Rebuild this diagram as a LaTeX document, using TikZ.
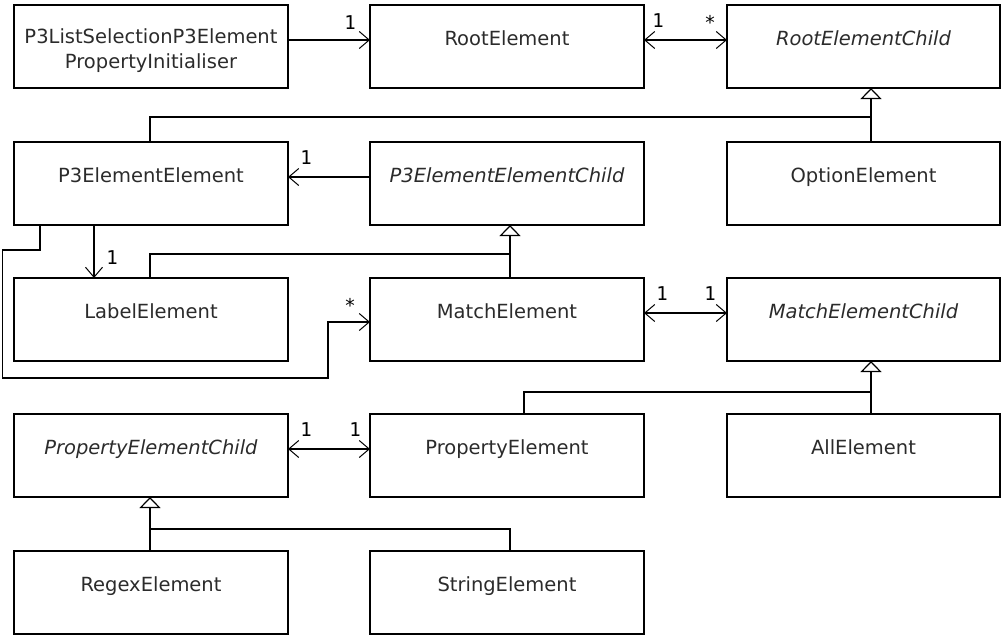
\documentclass[tikz,border=0pt]{standalone}
\usepackage{fontspec}
\setmainfont{DejaVu Sans}
\newfontfamily\multfont{DejaVu Sans Mono}
\usetikzlibrary{arrows.meta,calc}
\definecolor{txt}{rgb}{0.17,0.17,0.17}
\begin{document}
\begin{tikzpicture}[x=1pt,y=-1pt,
  box/.style={draw, line width=1.5pt, inner sep=0pt, outer sep=0pt,
    minimum width=274pt, text height=40pt, text depth=43pt,
    anchor=north west, font=\fontsize{19.5}{25}\selectfont, text=txt},
  wide3/.style={minimum width=273pt},
  abstr/.style={font=\fontsize{19.5}{25}\selectfont\itshape},
  link/.style={line width=1.5pt},
  assoc/.style={link, >={Straight Barb[length=10pt,width=17pt,line width=1pt]}},
  gen/.style={link, -{Triangle[open,length=11pt,width=21pt,line width=1.2pt]}},
  mult/.style={inner sep=0pt, font=\multfont\fontsize{19}{19}\selectfont}
]
\useasboundingbox (0,0) rectangle (1001,635);

% boxes
\node[box] (p3l) at (14,5) [text height=38pt, text depth=45pt]
  {\begin{tabular}[t]{@{}c@{}}P3ListSelectionP3Element\\PropertyInitialiser\end{tabular}};
\node[box] (root) at (370,5) {RootElement};
\node[box,wide3,abstr] (rootc) at (727,5) {RootElementChild};

\node[box] (p3ee) at (14,142) {P3ElementElement};
\node[box,abstr] (p3eec) at (370,142) {P3ElementElementChild};
\node[box,wide3] (opt) at (727,142) {OptionElement};

\node[box] (label) at (14,278) {LabelElement};
\node[box] (match) at (370,278) {MatchElement};
\node[box,wide3,abstr] (matchc) at (727,278) {MatchElementChild};

\node[box,abstr] (propc) at (14,414) {PropertyElementChild};
\node[box] (prop) at (370,414) {PropertyElement};
\node[box,wide3] (all) at (727,414) {AllElement};

\node[box] (regex) at (14,551) {RegexElement};
\node[box] (string) at (370,551) {StringElement};

% junction points
\coordinate (j1) at ($(rootc.south west)+(144,29)$);
\coordinate (j2) at ($(p3eec.south west)+(140,29)$);
\coordinate (j3) at ($(matchc.south west)+(144,31)$);
\coordinate (j4) at ($(propc.south west)+(136,32)$);

% associations
\draw[assoc,->] ($(p3l.north east)+(0,35)$) -- ($(root.north west)+(0,35)$);
\node[mult] (m1) at ($(root.north west)+(-20,18)$) {1};

\draw[assoc,<->] ($(root.north east)+(0,35)$) -- ($(rootc.north west)+(0,35)$);
\node[mult] (m2) at ($(root.north east)+(14,16)$) {1};
\node[mult] (m3) at ($(rootc.north west)+(-17,17)$) {*};

\draw[assoc,->] ($(p3eec.north west)+(0,35)$) -- ($(p3ee.north east)+(0,35)$);
\node[mult] (m4) at ($(p3ee.north east)+(18,16)$) {1};

\draw[assoc,->] ($(p3ee.south west)+(80,0)$) -- ($(label.north west)+(80,0)$);
\node[mult] (m5) at ($(label.north west)+(98,-20)$) {1};

\draw[assoc,->] ($(p3ee.south west)+(26,0)$) -- ++(0,25) -- ++(-37.5,0) -- ++(0,128)
  -- ++(325.5,0) |- ($(match.north west)+(0,44)$);
\node[mult] (m6) at ($(match.north west)+(-20,27)$) {*};

\draw[assoc,<->] ($(match.north east)+(0,35)$) -- ($(matchc.north west)+(0,35)$);
\node[mult] (m7) at ($(match.north east)+(18,16)$) {1};
\node[mult] (m8) at ($(matchc.north west)+(-17,16)$) {1};

\draw[assoc,<->] ($(propc.north east)+(0,35)$) -- ($(prop.north west)+(0,35)$);
\node[mult] (m9) at ($(propc.north east)+(18,16)$) {1};
\node[mult] (m10) at ($(prop.north west)+(-15,16)$) {1};

% generalisations
\draw[gen] ($(opt.north west)+(144,0)$) -- ($(rootc.south west)+(144,0)$);
\draw[link] ($(p3ee.north west)+(136,0)$) |- (j1);

\draw[gen] ($(match.north west)+(140,0)$) -- ($(p3eec.south west)+(140,0)$);
\draw[link] ($(label.north west)+(136,0)$) |- (j2);

\draw[gen] ($(all.north west)+(144,0)$) -- ($(matchc.south west)+(144,0)$);
\draw[link] ($(prop.north west)+(154,0)$) |- (j3);

\draw[gen] ($(regex.north west)+(136,0)$) -- ($(propc.south west)+(136,0)$);
\draw[link] ($(string.north west)+(140,0)$) |- (j4);
\end{tikzpicture}
\end{document}
